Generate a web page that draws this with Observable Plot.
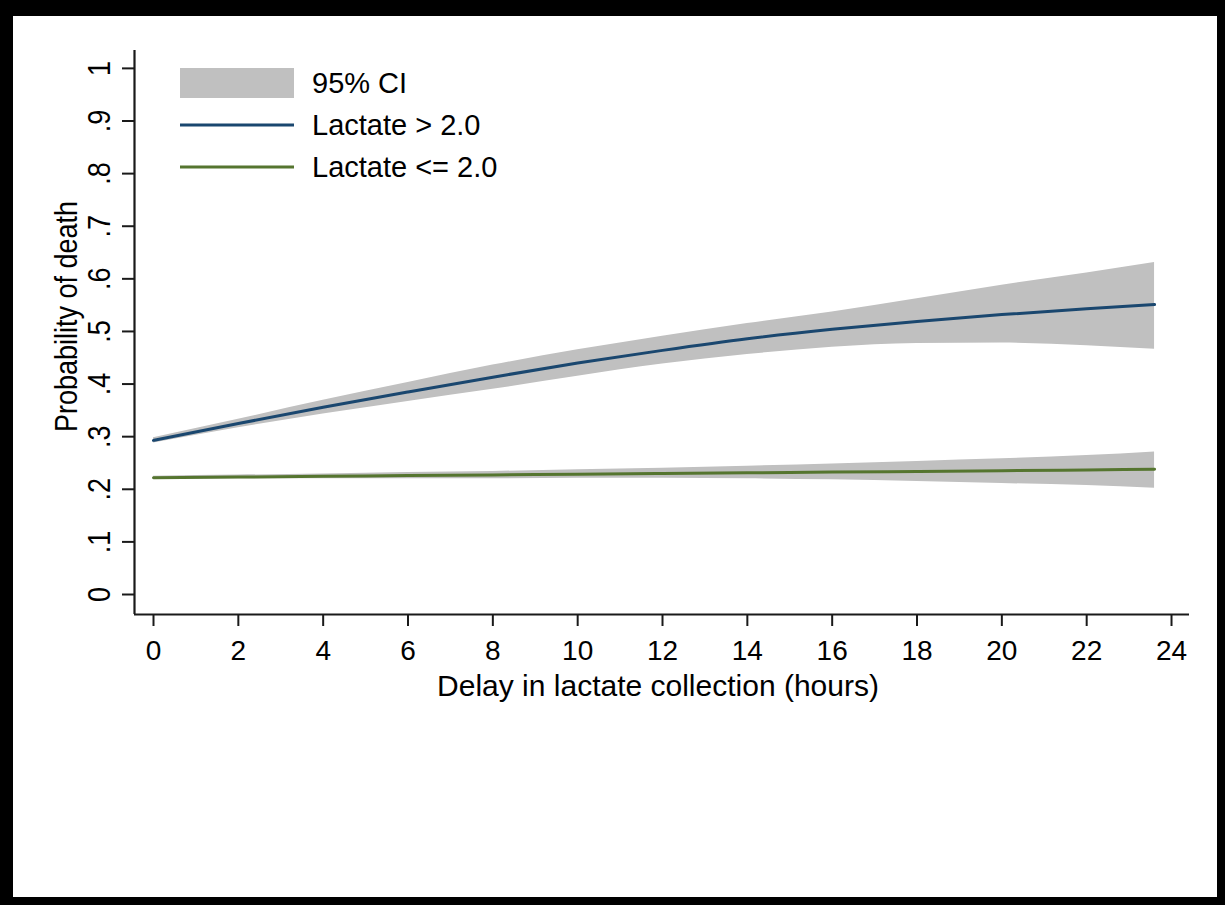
<!DOCTYPE html>
<html>
<head>
<meta charset="utf-8">
<script src="https://cdn.jsdelivr.net/npm/d3@7"></script>
<script src="https://cdn.jsdelivr.net/npm/@observablehq/plot@0.6"></script>
<style>
  html, body { margin: 0; padding: 0; background: #fff; }
  #frame {
    position: relative; width: 1225px; height: 905px; box-sizing: border-box;
    border-style: solid; border-color: #000; border-width: 16px 8px 8px 13px;
    background: #fff; font-family: "Liberation Sans", Arial, sans-serif;
  }
  #legend { position: absolute; left: 167px; top: 46px; }
  .row { display: flex; align-items: center; height: 42px; }
  .row svg { display: block; }
  .row span { margin-left: 18px; font-size: 29px; color: #000; line-height: 1; }
</style>
</head>
<body>
<div id="frame">
  <div id="chart"></div>
  <div id="legend"></div>
</div>
<script>
// Hours along the x axis where the curves were read
const hours = [0, 2, 4, 6, 8, 10, 12, 14, 16, 18, 20, 22, 23.6];
// Lactate > 2.0 : predicted probability and 95% CI
const highMid = [0.293, 0.325, 0.356, 0.385, 0.413, 0.440, 0.464, 0.486, 0.504, 0.519, 0.532, 0.543, 0.551];
const highLo  = [0.288, 0.317, 0.343, 0.367, 0.390, 0.415, 0.438, 0.456, 0.470, 0.477, 0.478, 0.473, 0.466];
const highHi  = [0.298, 0.333, 0.369, 0.403, 0.436, 0.465, 0.491, 0.515, 0.537, 0.562, 0.588, 0.611, 0.631];
// Lactate <= 2.0 : predicted probability and 95% CI
const lowMid = [0.222, 0.2233, 0.2246, 0.226, 0.2273, 0.2287, 0.230, 0.2313, 0.2327, 0.234, 0.2353, 0.2367, 0.238];
const lowLo  = [0.219, 0.220, 0.220, 0.220, 0.220, 0.221, 0.221, 0.220, 0.218, 0.215, 0.211, 0.207, 0.202];
const lowHi  = [0.225, 0.227, 0.229, 0.232, 0.234, 0.237, 0.240, 0.244, 0.248, 0.253, 0.258, 0.264, 0.271];

const xTicks = [0, 2, 4, 6, 8, 10, 12, 14, 16, 18, 20, 22, 24];
const yTicks = [0, 0.1, 0.2, 0.3, 0.4, 0.5, 0.6, 0.7, 0.8, 0.9, 1];
const yTickLabels = ["0", ".1", ".2", ".3", ".4", ".5", ".6", ".7", ".8", ".9", "1"];

const xTitle = "Delay in lactate collection (hours)";
const yTitle = "Probability of death";
const legendLabels = ["95% CI", "Lactate > 2.0", "Lactate <= 2.0"];

const colors = { ci: "#c0c0c0", high: "#1a476f", low: "#55752f" };

const high = hours.map((h, i) => ({ h, mid: highMid[i], lo: highLo[i], hi: highHi[i] }));
const low = hours.map((h, i) => ({ h, mid: lowMid[i], lo: lowLo[i], hi: lowHi[i] }));

const xDomain = [-0.448, 24.424];
const yDomain = [-0.038, 1.034];
const font = "'Liberation Sans', Arial, sans-serif";

const chart = Plot.plot({
  width: 1204,
  height: 881,
  marginLeft: 121,
  marginRight: 28,
  marginTop: 34,
  marginBottom: 283,
  style: { fontFamily: font, color: "#000", background: "#fff" },
  x: { domain: xDomain },
  y: { domain: yDomain },
  marks: [
    Plot.areaY(low, { x: "h", y1: "lo", y2: "hi", fill: colors.ci, curve: "monotone-x" }),
    Plot.areaY(high, { x: "h", y1: "lo", y2: "hi", fill: colors.ci, curve: "monotone-x" }),
    Plot.lineY(low, { x: "h", y: "mid", stroke: colors.low, strokeWidth: 3, curve: "monotone-x" }),
    Plot.lineY(high, { x: "h", y: "mid", stroke: colors.high, strokeWidth: 3, curve: "monotone-x" }),
    Plot.ruleX([xDomain[0]], { stroke: "#1a1a1a", strokeWidth: 2.2 }),
    Plot.ruleY([yDomain[0]], { stroke: "#1a1a1a", strokeWidth: 2.2 }),
    Plot.axisX({
      ticks: xTicks, tickSize: 12, tickPadding: 14, fontSize: 28,
      tickFormat: d => String(d), label: null, strokeWidth: 2, stroke: "#1a1a1a", fill: "#000"
    }),
    Plot.axisY({
      ticks: yTicks, tickSize: 12, tickPadding: 13, tickRotate: -90,
      textAnchor: "middle", lineAnchor: "bottom", fontSize: 27,
      tickFormat: d => yTickLabels[yTicks.indexOf(d)], label: null,
      strokeWidth: 2, stroke: "#1a1a1a", fill: "#000"
    }),
    Plot.text([xTitle], {
      text: d => d, frameAnchor: "bottom", dy: 81, dx: -4,
      lineAnchor: "bottom", textAnchor: "middle", fontSize: 30, fill: "#000"
    }),
    Plot.text([yTitle], {
      text: d => d, frameAnchor: "left", rotate: -90, dx: -68, dy: -16,
      lineAnchor: "middle", textAnchor: "middle", fontSize: 27, fill: "#000"
    })
  ]
});
// The reference is stretched horizontally: widen the rotated (vertical) texts across the page
chart.querySelectorAll("text").forEach(t => {
  const tr = t.getAttribute("transform");
  if (tr && tr.includes("rotate(-90)")) t.setAttribute("transform", tr + " scale(1,1.17)");
});
document.getElementById("chart").appendChild(chart);

// Legend
const legend = document.getElementById("legend");
const swatches = [
  `<svg width="114" height="30"><rect width="114" height="30" fill="${colors.ci}"/></svg>`,
  `<svg width="114" height="4"><rect y="0.5" width="114" height="3" fill="${colors.high}"/></svg>`,
  `<svg width="114" height="4"><rect y="0.5" width="114" height="3" fill="${colors.low}"/></svg>`
];
legendLabels.forEach((lab, i) => {
  const row = document.createElement("div");
  row.className = "row";
  row.innerHTML = swatches[i];
  const s = document.createElement("span");
  s.textContent = lab;
  row.appendChild(s);
  legend.appendChild(row);
});
</script>
</body>
</html>
